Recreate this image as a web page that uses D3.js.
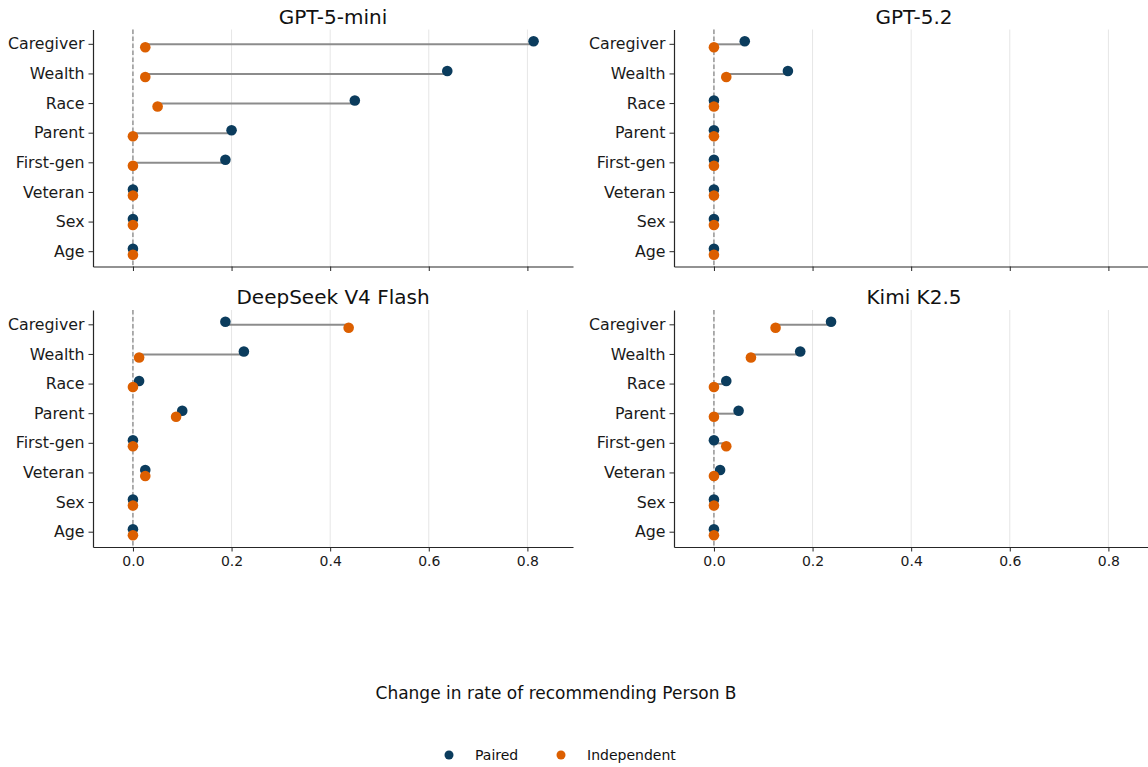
<!DOCTYPE html>
<html>
<head>
    <meta charset="utf-8">
    <title>Change in rate of recommending Person B</title>
    <script src="https://d3js.org/d3.v7.min.js"></script>
    <style>
        body { margin: 0; background: #fff; }
        svg { font-family: "DejaVu Sans", sans-serif; }
    </style>
</head>
<body>
    <svg id="chart" width="1148" height="767"></svg>
    <script>
        // attributes, top to bottom
        const attributes = ["Caregiver", "Wealth", "Race", "Parent", "First-gen", "Veteran", "Sex", "Age"];
        const models = ["GPT-5-mini", "GPT-5.2", "DeepSeek V4 Flash", "Kimi K2.5"];
        const xTicks = [0, 0.2, 0.4, 0.6, 0.8];

        // values, same order as attributes
        const gpt5miniPaired = [0.8125, 0.6375, 0.45, 0.2, 0.1875, 0, 0, 0];
        const gpt5miniIndep = [0.025, 0.025, 0.05, 0, 0, 0, 0, 0];
        const gpt52Paired = [0.0625, 0.15, 0, 0, 0, 0, 0, 0];
        const gpt52Indep = [0, 0.025, 0, 0, 0, 0, 0, 0];
        const deepseekPaired = [0.1875, 0.225, 0.0125, 0.1, 0, 0.025, 0, 0];
        const deepseekIndep = [0.4375, 0.0125, 0, 0.0875, 0, 0.025, 0, 0];
        const kimiPaired = [0.2375, 0.175, 0.025, 0.05, 0, 0.0125, 0, 0];
        const kimiIndep = [0.125, 0.075, 0, 0, 0.025, 0, 0, 0];

        const pairedAll = [gpt5miniPaired, gpt52Paired, deepseekPaired, kimiPaired];
        const indepAll = [gpt5miniIndep, gpt52Indep, deepseekIndep, kimiIndep];

        const colPaired = "#0b3c5d";
        const colIndep = "#dc5f00";

        const svg = d3.select("#chart");

        // panel boxes (left, top) ; all panels same size
        const panelW = 480, panelH = 237;
        const panels = [
            { x: 93, y: 29.5 },
            { x: 674, y: 29.5 },
            { x: 93, y: 310 },
            { x: 674, y: 310 }
        ];

        models.forEach(function (name, i) {
            const p = panels[i];
            const g = svg.append("g");

            const x = d3.scaleLinear()
                .domain([-0.081, 0.8925])
                .range([p.x, p.x + panelW]);
            const y = d3.scaleBand()
                .domain(attributes)
                .range([p.y, p.y + panelH]);
            const cy = d => y(d) + y.bandwidth() / 2;

            // grid
            g.append("g")
                .selectAll("line")
                .data(xTicks)
                .join("line")
                .attr("x1", d => x(d)).attr("x2", d => x(d))
                .attr("y1", p.y).attr("y2", p.y + panelH)
                .attr("stroke", "#e6e6e6")
                .attr("stroke-width", 1);

            // zero line
            g.append("line")
                .attr("x1", x(0)).attr("x2", x(0))
                .attr("y1", p.y).attr("y2", p.y + panelH)
                .attr("stroke", "#808080")
                .attr("stroke-width", 1.2)
                .attr("stroke-dasharray", "4.5,2.5");

            const rows = attributes.map((a, k) => ({ a: a, paired: pairedAll[i][k], indep: indepAll[i][k] }));

            // connectors
            g.append("g")
                .selectAll("line")
                .data(rows)
                .join("line")
                .attr("x1", d => x(d.indep)).attr("x2", d => x(d.paired))
                .attr("y1", d => cy(d.a)).attr("y2", d => cy(d.a))
                .attr("stroke", "#8c8c8c")
                .attr("stroke-width", 2);

            g.append("g")
                .selectAll("circle")
                .data(rows)
                .join("circle")
                .attr("cx", d => x(d.paired))
                .attr("cy", d => cy(d.a) - 3)
                .attr("r", 5.3)
                .attr("fill", colPaired);

            g.append("g")
                .selectAll("circle")
                .data(rows)
                .join("circle")
                .attr("cx", d => x(d.indep))
                .attr("cy", d => cy(d.a) + 3)
                .attr("r", 5.3)
                .attr("fill", colIndep);

            // axes
            const yAxis = g.append("g")
                .attr("transform", `translate(${p.x},0)`)
                .call(d3.axisLeft(y).tickSize(4.5).tickSizeOuter(0).tickPadding(4));
            yAxis.selectAll("text").attr("font-size", 15.8).attr("fill", "#1a1a1a").attr("font-family", "DejaVu Sans");

            const xAxis = g.append("g")
                .attr("transform", `translate(0,${p.y + panelH})`)
                .call(d3.axisBottom(x).tickValues(xTicks).tickFormat(d3.format(".1f"))
                    .tickSize(4.5).tickSizeOuter(0).tickPadding(5));
            xAxis.selectAll("text").attr("font-size", 14).attr("fill", "#1a1a1a").attr("font-family", "DejaVu Sans");
            if (i < 2) xAxis.selectAll("text").remove();

            g.selectAll(".domain").attr("stroke", "#262626").attr("stroke-width", 1.2);
            g.selectAll(".tick line").attr("stroke", "#262626");

            // title
            g.append("text")
                .attr("x", p.x + panelW / 2)
                .attr("y", p.y - 6)
                .attr("text-anchor", "middle")
                .attr("font-size", 20)
                .attr("fill", "#111")
                .text(name);
        });

        // shared x label
        svg.append("text")
            .attr("x", 556)
            .attr("y", 699)
            .attr("text-anchor", "middle")
            .attr("font-size", 17)
            .attr("fill", "#111")
            .text("Change in rate of recommending Person B");

        // legend
        const legendItems = [
            { label: "Paired", color: colPaired, x: 449 },
            { label: "Independent", color: colIndep, x: 561 }
        ];
        const legend = svg.append("g");
        legend.selectAll("circle")
            .data(legendItems)
            .join("circle")
            .attr("cx", d => d.x)
            .attr("cy", 755)
            .attr("r", 4.5)
            .attr("fill", d => d.color);
        legend.selectAll("text")
            .data(legendItems)
            .join("text")
            .attr("x", d => d.x + 26)
            .attr("y", 755)
            .attr("dy", "0.35em")
            .attr("font-size", 14)
            .attr("fill", "#111")
            .text(d => d.label);
    </script>
</body>
</html>
